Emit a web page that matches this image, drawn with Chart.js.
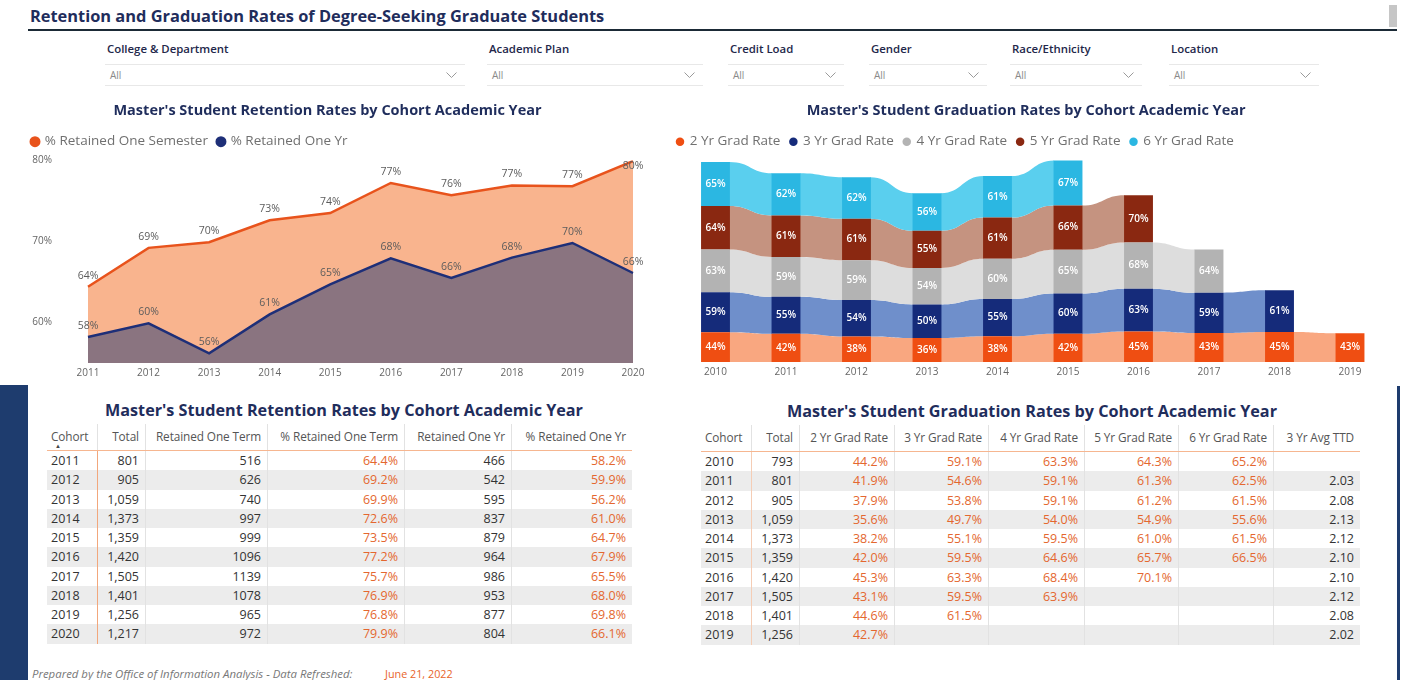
<!DOCTYPE html>
<html><head><meta charset="utf-8">
<script src="https://cdn.jsdelivr.net/npm/chart.js@4.4.1/dist/chart.umd.min.js"></script>
<style>
*{box-sizing:border-box}
body{margin:0;width:1401px;height:680px;overflow:hidden;background:#fff;font-family:"Open Sans","Noto Sans",sans-serif;position:relative}
.a{position:absolute}
.hdr{font-weight:700;color:#1F2D5C;white-space:nowrap}
.slabel{font-size:11.4px;font-weight:600;color:#23274a;white-space:nowrap}
.sbox{height:22px;border-top:1px solid #e8e8e8;border-bottom:1px solid #e8e8e8;font-size:10px;color:#8a8a8a;line-height:20px;padding-left:5px}
.sbox svg{position:absolute;right:8px;top:7px}
.tbl{font-size:12.5px;color:#333}
.row{display:flex;position:absolute;left:0}
.cell{height:100%;white-space:nowrap;padding:0 6px;border-right:1px solid #e2e2e2;overflow:visible}
.hcell{font-size:11.8px;color:#555;line-height:24px;letter-spacing:-0.1px}
.bcell{line-height:19.25px}
.pct{color:#E4672F}
</style></head>
<body>
<div class="a hdr" style="left:30px;top:4px;font-size:16.4px;">Retention and Graduation Rates of Degree-Seeking Graduate Students</div>
<div class="a" style="left:28px;top:29px;width:1369px;height:2px;background:#1B2A36"></div>
<div class="a" style="left:1389px;top:5px;width:8px;height:22px;background:#c6c6c6"></div>
<div id="slicers"></div>

<canvas id="retChart" class="a" style="left:20px;top:97px;width:640px;height:286px" width="640" height="286"></canvas>
<canvas id="gradChart" class="a" style="left:660px;top:97px;width:740px;height:286px" width="740" height="286"></canvas>

<div class="a" style="left:0;top:385px;width:28px;height:295px;background:#1E3C6E"></div>
<div class="a" style="left:1397px;top:386px;width:3px;height:294px;background:#1E3C6E"></div>

<div class="a hdr" style="left:344px;top:399px;transform:translateX(-50%);font-size:16.2px;">Master's Student Retention Rates by Cohort Academic Year</div>
<div class="a hdr" style="left:1032px;top:400px;transform:translateX(-50%);font-size:16.2px;">Master's Student Graduation Rates by Cohort Academic Year</div>

<div id="retTable" class="a tbl" style="left:47px;top:424px;height:225px"></div>
<div id="gradTable" class="a tbl" style="left:701px;top:425px;height:225px"></div>
<div class="a" style="left:55px;top:442px;font-size:6px;color:#444">▲</div>

<div class="a" style="left:32px;top:666px;font-size:11.4px;font-style:italic;color:#777;white-space:nowrap">Prepared by the Office of Information Analysis - Data Refreshed:</div>
<div class="a" style="left:385px;top:666px;font-size:10.8px;color:#E8642A;white-space:nowrap">June 21, 2022</div>

<script>
// ---------- DATA ----------
const retCohorts = ['2011','2012','2013','2014','2015','2016','2017','2018','2019','2020'];
const retTotal   = [801, 905, 1059, 1373, 1359, 1420, 1505, 1401, 1256, 1217];
const retTerm    = [516, 626, 740, 997, 999, 1096, 1139, 1078, 965, 972];
const pctTerm    = [64.4, 69.2, 69.9, 72.6, 73.5, 77.2, 75.7, 76.9, 76.8, 79.9];
const retYr      = [466, 542, 595, 837, 879, 964, 986, 953, 877, 804];
const pctYr      = [58.2, 59.9, 56.2, 61.0, 64.7, 67.9, 65.5, 68.0, 69.8, 66.1];

const gradCohorts = ['2010','2011','2012','2013','2014','2015','2016','2017','2018','2019'];
const gradTotal   = [793, 801, 905, 1059, 1373, 1359, 1420, 1505, 1401, 1256];
const grad2 = [44.2, 41.9, 37.9, 35.6, 38.2, 42.0, 45.3, 43.1, 44.6, 42.7];
const grad3 = [59.1, 54.6, 53.8, 49.7, 55.1, 59.5, 63.3, 59.46, 61.46, null];
const grad4 = [63.3, 59.1, 59.1, 54.0, 59.5, 64.6, 68.4, 63.9, null, null];
const grad5 = [64.3, 61.3, 61.2, 54.9, 61.0, 65.7, 70.1, null, null, null];
const grad6 = [65.2, 62.46, 61.5, 55.6, 61.46, 66.5, null, null, null, null];
const avgTTD = [null, 2.03, 2.08, 2.13, 2.12, 2.10, 2.10, 2.12, 2.08, 2.02];

const slicerNames = ['College & Department','Academic Plan','Credit Load','Gender','Race/Ethnicity','Location'];

// ---------- SLICERS (layout) ----------
const slicerBoxes = [[105,360],[487,216],[728,116],[869,118],[1010,132],[1169,150]];
const sl = document.getElementById('slicers');
slicerNames.forEach((n,i)=>{
  const [l,w] = slicerBoxes[i];
  const lab = document.createElement('div'); lab.className='a slabel'; lab.style.left=(l+2)+'px'; lab.style.top='41px'; lab.textContent=n; sl.appendChild(lab);
  const box = document.createElement('div'); box.className='a sbox'; box.style.left=l+'px'; box.style.top='64px'; box.style.width=w+'px';
  box.innerHTML='All<svg width="11" height="7"><polyline points="0.5,0.5 5.5,5.5 10.5,0.5" fill="none" stroke="#9a9a9a" stroke-width="1"/></svg>';
  sl.appendChild(box);
});

// ---------- TABLES ----------
function makeTable(el, widths, heads, rows, sepColor){
  const total = widths.reduce((a,b)=>a+b,0);
  el.style.width = total+'px';
  const h = document.createElement('div'); h.className='row'; h.style.top='0px'; h.style.height='27px'; h.style.width=total+'px'; h.style.borderBottom='1.5px solid #F6B690';
  heads.forEach((t,i)=>{
    const c=document.createElement('div'); c.className='cell hcell'; c.style.width=widths[i]+'px';
    c.style.textAlign = i===0?'left':'right'; if(i===0) c.style.paddingLeft='4px';
    if(i===widths.length-1) c.style.borderRight='none';
    c.textContent=t; h.appendChild(c);
  });
  el.appendChild(h);
  rows.forEach((r,ri)=>{
    const d=document.createElement('div'); d.className='row'; d.style.top=(27+ri*19.25)+'px'; d.style.height='19.25px'; d.style.width=total+'px';
    if(ri%2===1) d.style.background='#ececec';
    r.forEach((cv,i)=>{
      const c=document.createElement('div'); c.className='cell bcell'+(cv.pct?' pct':''); c.style.width=widths[i]+'px';
      c.style.textAlign = i===0?'left':'right'; if(i===0){ c.style.paddingLeft='4px'; c.style.borderRight='1px solid '+sepColor; }
      if(i===widths.length-1) c.style.borderRight='none';
      c.textContent=cv.t; d.appendChild(c);
    });
    el.appendChild(d);
  });
}
const fmtInt = v => v.toLocaleString('en-US');
const fmtPct = v => v==null ? '' : v.toFixed(1)+'%';

makeTable(document.getElementById('retTable'), [51,48,122,137,107,120],
  ['Cohort','Total','Retained One Term','% Retained One Term','Retained One Yr','% Retained One Yr'],
  retCohorts.map((c,i)=>[{t:c},{t:fmtInt(retTotal[i])},{t:String(retTerm[i])},{t:fmtPct(pctTerm[i]),pct:1},{t:String(retYr[i])},{t:fmtPct(pctYr[i]),pct:1}]),
  '#F2A77C');

makeTable(document.getElementById('gradTable'), [51,48,95,94,96,94,95,86],
  ['Cohort','Total','2 Yr Grad Rate','3 Yr Grad Rate','4 Yr Grad Rate','5 Yr Grad Rate','6 Yr Grad Rate','3 Yr Avg TTD'],
  gradCohorts.map((c,i)=>[{t:c},{t:fmtInt(gradTotal[i])},{t:fmtPct(grad2[i]),pct:1},{t:fmtPct(grad3[i]),pct:1},{t:fmtPct(grad4[i]),pct:1},{t:fmtPct(grad5[i]),pct:1},{t:fmtPct(grad6[i]),pct:1},{t:avgTTD[i]==null?'':avgTTD[i].toFixed(2)}]),
  '#F5CDB5');

// ---------- CHARTS ----------
Chart.defaults.font.family = "'Open Sans','Noto Sans',sans-serif";
Chart.defaults.color = '#666';
Chart.defaults.animation = false;

const lineLabels = {
  id:'lineLabels',
  afterDatasetsDraw(chart){
    const ctx=chart.ctx; ctx.save();
    ctx.font="10.5px 'Open Sans'"; ctx.fillStyle='#5c5c5c'; ctx.textAlign='center'; ctx.textBaseline='middle';
    chart.data.datasets.forEach((ds,di)=>{
      chart.getDatasetMeta(di).data.forEach((pt,i)=>{
        const v=ds.data[i]; if(v==null) return;
        let y=pt.y-11;
        if(y-6 < chart.chartArea.top) y=pt.y+5;
        ctx.fillText(Math.round(v)+'%', pt.x, y);
      });
    });
    ctx.restore();
  }
};

const ribbons = {
  id:'ribbons',
  beforeDatasetsDraw(chart){
    const ctx=chart.ctx; ctx.save();
    chart.data.datasets.forEach((ds,di)=>{
      const meta=chart.getDatasetMeta(di);
      for(let j=0;j<meta.data.length-1;j++){
        if(ds.data[j]==null||ds.data[j+1]==null) continue;
        const a=meta.data[j], b=meta.data[j+1];
        const x1=a.x+a.width/2-0.5, x2=b.x-b.width/2+0.5, cx=(x1+x2)/2;
        ctx.beginPath();
        ctx.moveTo(x1,a.y);
        ctx.bezierCurveTo(cx,a.y,cx,b.y,x2,b.y);
        ctx.lineTo(x2,b.base);
        ctx.bezierCurveTo(cx,b.base,cx,a.base,x1,a.base);
        ctx.closePath();
        ctx.fillStyle=ds.ribbonColor; ctx.fill();
      }
    });
    ctx.restore();
  }
};

const barLabels = {
  id:'barLabels',
  afterDatasetsDraw(chart){
    const ctx=chart.ctx; ctx.save();
    ctx.font="600 10px 'Open Sans'"; ctx.fillStyle='#fff'; ctx.textAlign='center'; ctx.textBaseline='middle';
    chart.data.datasets.forEach((ds,di)=>{
      chart.getDatasetMeta(di).data.forEach((el,i)=>{
        const v=ds.data[i]; if(v==null) return;
        ctx.fillText(Math.round(v)+'%', el.x, (el.y+el.base)/2);
      });
    });
    ctx.restore();
  }
};

const titleFont = {size:14.5, weight:'bold'};
const legendLabels = {usePointStyle:true, pointStyle:'circle', boxWidth:6, boxHeight:6, padding:10, font:{size:13.5}, color:'#707070'};

new Chart(document.getElementById('retChart'), {
  type:'line',
  data:{labels:retCohorts, datasets:[
    {label:'% Retained One Semester', data:pctTerm, borderColor:'#E8531C', backgroundColor:'#F9B48E',
     pointBackgroundColor:'#E8531C', pointBorderColor:'#E8531C', fill:'start', borderWidth:2.5, pointRadius:0, tension:0, order:2},
    {label:'% Retained One Yr', data:pctYr, borderColor:'#1E2F78', backgroundColor:'#8A7480',
     pointBackgroundColor:'#1E2F78', pointBorderColor:'#1E2F78', fill:'start', borderWidth:2.5, pointRadius:0, tension:0, order:1}
  ]},
  options:{
    responsive:false, maintainAspectRatio:false,
    layout:{padding:{left:2, right:27, top:5.3, bottom:0}},
    plugins:{
      title:{display:true, text:"Master's Student Retention Rates by Cohort Academic Year", color:'#1F2D5C', font:titleFont, padding:{top:0,bottom:5.2}},
      subtitle:{display:true, text:'', font:{size:1,lineHeight:1}, padding:{top:0.9,bottom:0}, weight:500},
      legend:{position:'top', align:'start', labels:{...legendLabels, sort:(a,b)=>a.datasetIndex-b.datasetIndex}},
      tooltip:{enabled:false}
    },
    scales:{
      x:{offset:false, grid:{display:false, drawTicks:false}, border:{display:false},
         ticks:{font:{size:10}, color:'#666', padding:4, maxRotation:0}, afterFit:s=>{s.height=20;}},
      y:{min:55, max:80, grid:{display:false, drawTicks:false}, border:{display:false},
         ticks:{stepSize:10, font:{size:10}, color:'#666', padding:36, crossAlign:'near', callback:v=> v%10===0 ? v+'%' : ''},
         afterFit:s=>{s.width=66; s.paddingTop=6; s.paddingBottom=6;}}
    }
  },
  plugins:[lineLabels]
});

const gradSeries = [
  {label:'2 Yr Grad Rate', data:grad2, bar:'#EF4E12', ribbon:'#F9A780'},
  {label:'3 Yr Grad Rate', data:grad3, bar:'#152B7A', ribbon:'#6F8FCB'},
  {label:'4 Yr Grad Rate', data:grad4, bar:'#B3B3B3', ribbon:'#DDDDDD'},
  {label:'5 Yr Grad Rate', data:grad5, bar:'#8A2811', ribbon:'#C59380'},
  {label:'6 Yr Grad Rate', data:grad6, bar:'#2BB7E2', ribbon:'#5ACFEE'}
];

new Chart(document.getElementById('gradChart'), {
  type:'bar',
  data:{labels:gradCohorts, datasets:gradSeries.map(s=>({
    label:s.label, data:s.data, backgroundColor:s.bar, ribbonColor:s.ribbon, borderWidth:0,
    barPercentage:1, categoryPercentage:0.41
  }))},
  options:{
    responsive:false, maintainAspectRatio:false,
    layout:{padding:{left:7, right:14.75, top:5.3, bottom:1}},
    plugins:{
      title:{display:true, text:"Master's Student Graduation Rates by Cohort Academic Year", color:'#1F2D5C', font:titleFont, padding:{top:0,bottom:5.2}},
      subtitle:{display:true, text:'', font:{size:1,lineHeight:1}, padding:{top:0,bottom:0}, weight:500},
      legend:{position:'top', align:'start', labels:legendLabels},
      tooltip:{enabled:false}
    },
    scales:{
      x:{stacked:true, grid:{display:false, drawTicks:false}, border:{display:false},
         ticks:{font:{size:10}, color:'#666', padding:4, maxRotation:0}, afterFit:s=>{s.height=20;}},
      y:{stacked:true, min:0, max:300, grid:{display:false, drawTicks:false}, border:{display:false},
         ticks:{display:false}, afterFit:s=>{s.width=13.25;}}
    }
  },
  plugins:[ribbons, barLabels]
});
</script>
</body></html>
